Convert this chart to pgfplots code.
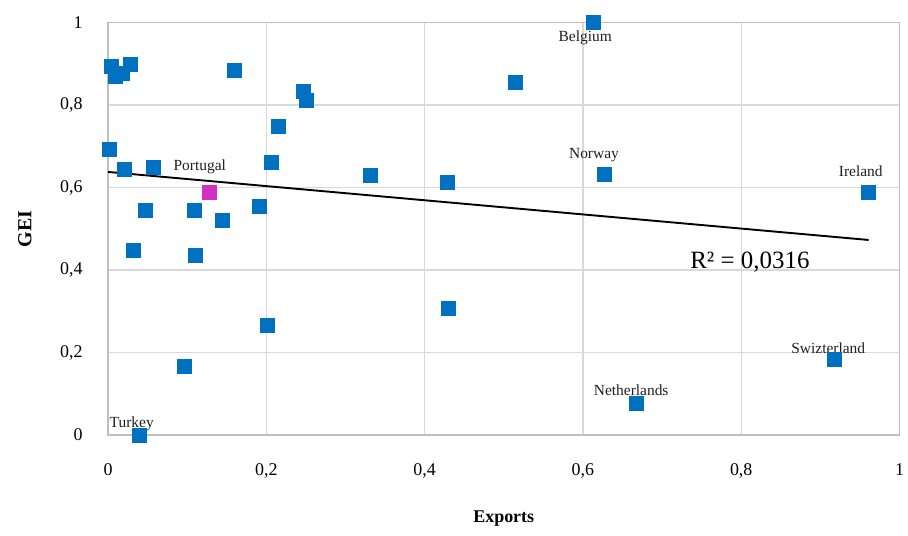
\documentclass[border=0pt]{standalone}
\usepackage{fontspec}
\setmainfont{Liberation Serif}
\usepackage{pgfplots}
\pgfplotsset{compat=1.18}
\definecolor{ptblue}{HTML}{0070C0}
\definecolor{ptmag}{HTML}{D22FC6}
\definecolor{gridgray}{HTML}{D9D9D9}
\pgfplotstableread{
x      y
0.004  0.895
0.009  0.869
0.018  0.877
0.028  0.900
0.160  0.885
0.246  0.835
0.250  0.811
0.215  0.749
0.001  0.694
0.021  0.645
0.057  0.650
0.206  0.662
0.331  0.631
0.047  0.544
0.109  0.546
0.144  0.520
0.191  0.555
0.032  0.449
0.110  0.437
0.201  0.267
0.096  0.167
0.039  0.000
0.428  0.612
0.515  0.856
0.613  1.000
0.627  0.633
0.430  0.308
0.667  0.078
0.917  0.184
0.961  0.589
}\countries
\pgfplotstableread{
x      y
0.128  0.589
}\portugal
\begin{document}
\begin{tikzpicture}[x=1bp,y=1bp]
\useasboundingbox (0,0) rectangle (908,536);
\begin{axis}[
  at={(108bp,101bp)}, anchor=south west,
  scale only axis, width=791.5bp, height=412.3bp,
  xmin=0, xmax=1, ymin=0, ymax=1,
  xtick={0,0.2,0.4,0.6,0.8,1},
  ytick={0,0.2,0.4,0.6,0.8,1},
  grid=major,
  grid style={draw=gridgray, line width=1.3bp},
  axis line style={draw=black!25, line width=1.3bp},
  major tick length=0,
  clip=false,
  /pgf/number format/use comma,
  /pgf/number format/assume math mode=true,
  tick label style={font=\fontsize{18}{21}\selectfont, text=black},
  yticklabel style={xshift=-22bp},
  xticklabel style={yshift=-25bp},
  xlabel={\textbf{Exports}},
  ylabel={\textbf{GEI}},
  xlabel style={at={(axis description cs:0.5,-0.203)}, anchor=center,
                font=\fontsize{18}{21}\selectfont},
  ylabel style={at={(axis description cs:-0.105,0.5)}, anchor=center,
                font=\fontsize{20}{23}\selectfont},
]
\addplot[only marks, mark=square*, mark size=7bp,
         mark options={fill=ptblue, draw=ptblue}] table {\countries};
\addplot[only marks, mark=square*, mark size=7bp,
         mark options={fill=ptmag, draw=ptmag}] table {\portugal};
% linear trend line
\addplot[black, line width=1.9bp] coordinates {(0,0.638) (0.961,0.473)};
\begin{scope}[every node/.style={font=\fontsize{15.5}{18}\selectfont, text=black!88, inner sep=0pt}]
\node at (axis cs:0.116,0.650) {Portugal};
\node at (axis cs:0.603,0.963) {Belgium};
\node at (axis cs:0.614,0.679) {Norway};
\node at (axis cs:0.951,0.639) {Ireland};
\node at (axis cs:0.910,0.211) {Swizterland};
\node at (axis cs:0.661,0.109) {Netherlands};
\node at (axis cs:0.030,0.027) {Turkey};
\end{scope}
\node[font=\fontsize{25}{29}\selectfont, inner sep=0pt] at (axis cs:0.811,0.420) {R² = 0,0316};
\end{axis}
\end{tikzpicture}
\end{document}
